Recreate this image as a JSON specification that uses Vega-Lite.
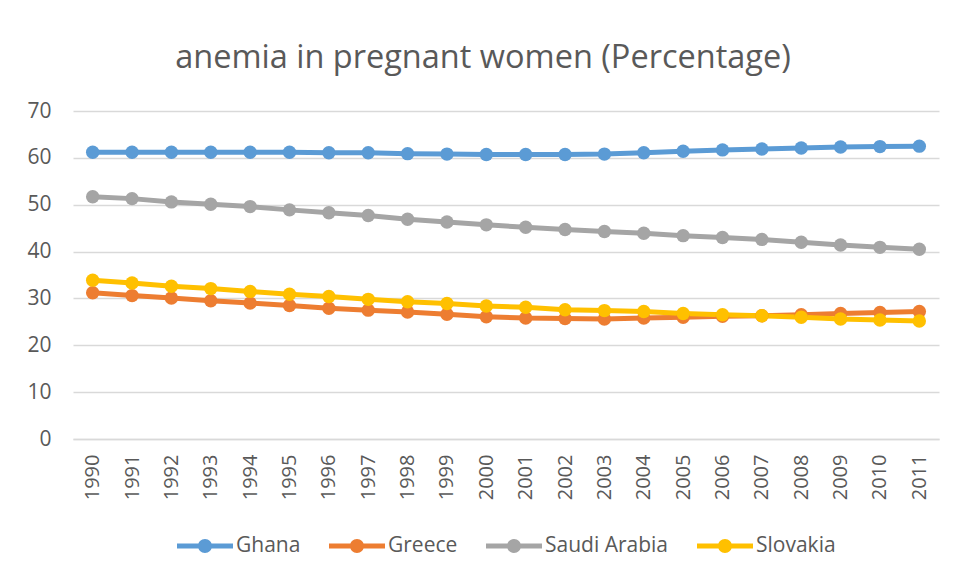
{
  "$schema": "https://vega.github.io/schema/vega-lite/v6.json",
  "width": 866,
  "height": 328,
  "padding": {"left": 26, "top": 41, "right": 18, "bottom": 10},
  "background": "white",
  "title": {
    "text": "anemia in pregnant women (Percentage)",
    "fontSize": 32.5,
    "font": "Open Sans",
    "fontWeight": "normal",
    "color": "#595959",
    "offset": 26,
    "anchor": "middle",
    "frame": "bounds"
  },
  "data": {
    "values": [
      {"year": "1990", "country": "Ghana", "value": 61.2},
      {"year": "1991", "country": "Ghana", "value": 61.2},
      {"year": "1992", "country": "Ghana", "value": 61.2},
      {"year": "1993", "country": "Ghana", "value": 61.2},
      {"year": "1994", "country": "Ghana", "value": 61.2},
      {"year": "1995", "country": "Ghana", "value": 61.2},
      {"year": "1996", "country": "Ghana", "value": 61.1},
      {"year": "1997", "country": "Ghana", "value": 61.1},
      {"year": "1998", "country": "Ghana", "value": 60.9},
      {"year": "1999", "country": "Ghana", "value": 60.8},
      {"year": "2000", "country": "Ghana", "value": 60.7},
      {"year": "2001", "country": "Ghana", "value": 60.7},
      {"year": "2002", "country": "Ghana", "value": 60.7},
      {"year": "2003", "country": "Ghana", "value": 60.8},
      {"year": "2004", "country": "Ghana", "value": 61.1},
      {"year": "2005", "country": "Ghana", "value": 61.4},
      {"year": "2006", "country": "Ghana", "value": 61.7},
      {"year": "2007", "country": "Ghana", "value": 61.9},
      {"year": "2008", "country": "Ghana", "value": 62.1},
      {"year": "2009", "country": "Ghana", "value": 62.3},
      {"year": "2010", "country": "Ghana", "value": 62.4},
      {"year": "2011", "country": "Ghana", "value": 62.5},
      {"year": "1990", "country": "Greece", "value": 31.2},
      {"year": "1991", "country": "Greece", "value": 30.6},
      {"year": "1992", "country": "Greece", "value": 30.1},
      {"year": "1993", "country": "Greece", "value": 29.5},
      {"year": "1994", "country": "Greece", "value": 29.0},
      {"year": "1995", "country": "Greece", "value": 28.5},
      {"year": "1996", "country": "Greece", "value": 27.9},
      {"year": "1997", "country": "Greece", "value": 27.5},
      {"year": "1998", "country": "Greece", "value": 27.1},
      {"year": "1999", "country": "Greece", "value": 26.6},
      {"year": "2000", "country": "Greece", "value": 26.1},
      {"year": "2001", "country": "Greece", "value": 25.8},
      {"year": "2002", "country": "Greece", "value": 25.7},
      {"year": "2003", "country": "Greece", "value": 25.6},
      {"year": "2004", "country": "Greece", "value": 25.8},
      {"year": "2005", "country": "Greece", "value": 26.0},
      {"year": "2006", "country": "Greece", "value": 26.2},
      {"year": "2007", "country": "Greece", "value": 26.3},
      {"year": "2008", "country": "Greece", "value": 26.5},
      {"year": "2009", "country": "Greece", "value": 26.8},
      {"year": "2010", "country": "Greece", "value": 27.0},
      {"year": "2011", "country": "Greece", "value": 27.2},
      {"year": "1990", "country": "Saudi Arabia", "value": 51.7},
      {"year": "1991", "country": "Saudi Arabia", "value": 51.3},
      {"year": "1992", "country": "Saudi Arabia", "value": 50.6},
      {"year": "1993", "country": "Saudi Arabia", "value": 50.1},
      {"year": "1994", "country": "Saudi Arabia", "value": 49.6},
      {"year": "1995", "country": "Saudi Arabia", "value": 48.9},
      {"year": "1996", "country": "Saudi Arabia", "value": 48.3},
      {"year": "1997", "country": "Saudi Arabia", "value": 47.7},
      {"year": "1998", "country": "Saudi Arabia", "value": 46.9},
      {"year": "1999", "country": "Saudi Arabia", "value": 46.3},
      {"year": "2000", "country": "Saudi Arabia", "value": 45.7},
      {"year": "2001", "country": "Saudi Arabia", "value": 45.2},
      {"year": "2002", "country": "Saudi Arabia", "value": 44.7},
      {"year": "2003", "country": "Saudi Arabia", "value": 44.3},
      {"year": "2004", "country": "Saudi Arabia", "value": 43.9},
      {"year": "2005", "country": "Saudi Arabia", "value": 43.4},
      {"year": "2006", "country": "Saudi Arabia", "value": 43.0},
      {"year": "2007", "country": "Saudi Arabia", "value": 42.6},
      {"year": "2008", "country": "Saudi Arabia", "value": 42.0},
      {"year": "2009", "country": "Saudi Arabia", "value": 41.4},
      {"year": "2010", "country": "Saudi Arabia", "value": 40.9},
      {"year": "2011", "country": "Saudi Arabia", "value": 40.5},
      {"year": "1990", "country": "Slovakia", "value": 33.9},
      {"year": "1991", "country": "Slovakia", "value": 33.3},
      {"year": "1992", "country": "Slovakia", "value": 32.6},
      {"year": "1993", "country": "Slovakia", "value": 32.1},
      {"year": "1994", "country": "Slovakia", "value": 31.5},
      {"year": "1995", "country": "Slovakia", "value": 30.9},
      {"year": "1996", "country": "Slovakia", "value": 30.4},
      {"year": "1997", "country": "Slovakia", "value": 29.8},
      {"year": "1998", "country": "Slovakia", "value": 29.3},
      {"year": "1999", "country": "Slovakia", "value": 28.9},
      {"year": "2000", "country": "Slovakia", "value": 28.4},
      {"year": "2001", "country": "Slovakia", "value": 28.1},
      {"year": "2002", "country": "Slovakia", "value": 27.6},
      {"year": "2003", "country": "Slovakia", "value": 27.4},
      {"year": "2004", "country": "Slovakia", "value": 27.2},
      {"year": "2005", "country": "Slovakia", "value": 26.8},
      {"year": "2006", "country": "Slovakia", "value": 26.5},
      {"year": "2007", "country": "Slovakia", "value": 26.3},
      {"year": "2008", "country": "Slovakia", "value": 26.0},
      {"year": "2009", "country": "Slovakia", "value": 25.6},
      {"year": "2010", "country": "Slovakia", "value": 25.4},
      {"year": "2011", "country": "Slovakia", "value": 25.2}
    ]
  },
  "encoding": {
    "x": {
      "field": "year",
      "type": "ordinal",
      "scale": {"type": "point", "padding": 0.5},
      "axis": {
        "title": null,
        "labelAngle": 270,
        "labelFontSize": 20,
        "labelFont": "Open Sans",
        "labelColor": "#595959",
        "labelPadding": 15,
        "ticks": false,
        "domain": true,
        "domainColor": "#D9D9D9",
        "domainWidth": 1.5,
        "grid": false
      }
    },
    "y": {
      "field": "value",
      "type": "quantitative",
      "scale": {"domain": [0, 70], "nice": false},
      "axis": {
        "title": null,
        "values": [0, 10, 20, 30, 40, 50, 60, 70],
        "labelFontSize": 21,
        "labelFont": "Open Sans",
        "labelColor": "#595959",
        "labelPadding": 22,
        "ticks": false,
        "domain": false,
        "grid": true,
        "gridColor": "#D9D9D9",
        "gridWidth": 1.5
      }
    },
    "color": {
      "field": "country",
      "type": "nominal",
      "scale": {
        "domain": ["Ghana", "Greece", "Saudi Arabia", "Slovakia"],
        "range": ["#5B9BD5", "#ED7D31", "#A5A5A5", "#FFC000"]
      },
      "legend": {
        "title": null,
        "orient": "bottom",
        "direction": "horizontal",
        "offset": 18,
        "symbolType": "M-1,-0.09L1,-0.09L1,0.09L-1,0.09Z M0.25,0 A0.25,0.25 0 1,1 -0.25,0 A0.25,0.25 0 1,1 0.25,0Z",
        "symbolSize": 3136,
        "symbolStrokeWidth": 0,
        "labelFontSize": 21,
        "labelFont": "Open Sans",
        "labelColor": "#595959",
        "labelOffset": 3,
        "columnPadding": 28
      }
    }
  },
  "layer": [
    {"mark": {"type": "line", "strokeWidth": 5}},
    {"mark": {"type": "point", "filled": true, "size": 180, "opacity": 1}}
  ],
  "config": {
    "view": {"stroke": null},
    "legend": {"layout": {"bottom": {"anchor": "middle"}}}
  }
}
